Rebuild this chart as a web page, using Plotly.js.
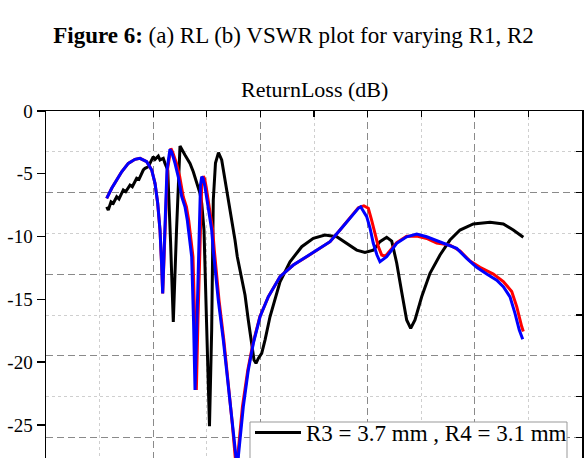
<!DOCTYPE html>
<html>
<head>
<meta charset="utf-8">
<script src="https://cdn.plot.ly/plotly-3.0.1.min.js"></script>
<style>
html,body{margin:0;padding:0;background:#fff;overflow:hidden;}
#wrap{width:587px;height:458px;overflow:hidden;}
</style>
</head>
<body>
<div id="wrap"><div id="chart"></div></div>
<script>
// Series names
const seriesNames = ["R3 = 3.7 mm , R4 = 3.1 mm", "R3 = 3.8 mm , R4 = 3.2 mm", "R3 = 3.9 mm , R4 = 3.3 mm"];
const yTickVals = [0, -5, -10, -15, -20, -25];
const yTickText = ["0", "-5", "-10", "-15", "-20", "-25"];

// Black series (R3 = 3.7 mm, R4 = 3.1 mm)
const xBlack = [1.132,1.162,1.213,1.256,1.319,1.362,1.442,1.487,1.567,1.610,1.692,1.735,1.815,1.847,1.909,1.959,2.002,2.034,2.095,2.127,2.188,2.220,2.271,2.323,2.375,2.435,2.500,2.593,2.687,2.748,2.812,2.873,2.905,2.923,2.948,2.994,3.050,3.091,3.121,3.162,3.218,3.278,3.340,3.401,3.465,3.526,3.569,3.619,3.713,3.774,3.838,3.881,3.918,3.961,4.024,4.086,4.179,4.272,4.366,4.552,4.771,4.987,5.205,5.424,5.610,5.797,5.951,6.106,6.231,6.356,6.450,6.543,6.636,6.729,6.804,6.884,7.009,7.164,7.351,7.537,7.724,7.972,8.284,8.532,8.718,8.905];
const yBlack = [-7.63,-7.89,-7.23,-7.35,-6.83,-7.01,-6.29,-6.43,-5.90,-6.03,-5.36,-5.44,-4.70,-4.57,-4.44,-4.04,-3.64,-3.85,-3.59,-3.90,-3.77,-4.17,-4.70,-10.3,-16.8,-9.5,-2.79,-3.51,-4.17,-4.84,-5.63,-6.56,-7.35,-8.13,-9.48,-16.65,-25.1,-17.45,-7.09,-4.14,-3.31,-3.90,-5.50,-6.83,-8.42,-10.28,-11.61,-12.67,-14.66,-16.65,-18.65,-19.84,-20.10,-19.71,-19.31,-18.25,-16.39,-15.06,-13.60,-12.01,-10.81,-10.14,-9.88,-10.02,-10.54,-11.08,-11.27,-11.08,-10.41,-10.06,-10.36,-12.11,-14.42,-16.65,-17.31,-16.65,-14.80,-12.93,-11.47,-10.28,-9.48,-9.00,-8.87,-9.00,-9.48,-10.06];

// Red series (R3 = 3.8 mm, R4 = 3.2 mm)
const xRed = [1.132,1.226,1.319,1.412,1.535,1.660,1.754,1.879,1.972,2.034,2.084,2.127,2.159,2.177,2.215,2.265,2.330,2.362,2.435,2.495,2.560,2.620,2.662,2.712,2.742,2.775,2.805,2.835,2.875,2.905,2.935,2.960,2.990,3.050,3.110,3.140,3.170,3.228,3.318,3.405,3.475,3.530,3.560,3.575,3.665,3.765,3.862,3.990,4.147,4.366,4.614,4.864,5.112,5.299,5.485,5.672,5.827,5.930,6.013,6.075,6.138,6.200,6.263,6.310,6.356,6.543,6.729,6.916,7.103,7.289,7.537,7.724,7.910,8.097,8.346,8.532,8.689,8.782,8.875,8.905];
const yRed = [-6.96,-6.16,-5.50,-4.84,-4.17,-3.85,-3.77,-4.04,-4.70,-5.76,-7.35,-9.48,-12.41,-14.54,-10.28,-4.70,-2.98,-3.27,-4.17,-5.24,-6.83,-7.63,-8.69,-10.28,-11.61,-16.65,-22.23,-16.65,-9.48,-5.90,-5.20,-5.40,-6.10,-7.63,-9.48,-11.08,-12.67,-15.06,-18.25,-21.70,-24.88,-27.55,-28.70,-27.60,-23.56,-20.64,-18.51,-16.39,-14.80,-13.20,-12.27,-11.61,-10.94,-10.41,-9.48,-8.55,-7.70,-7.55,-7.75,-8.70,-9.75,-10.80,-11.47,-11.55,-11.45,-10.48,-9.97,-9.97,-10.15,-10.52,-10.68,-11.15,-11.95,-12.45,-12.99,-13.58,-14.38,-15.58,-17.17,-17.57];

// Blue series (R3 = 3.9 mm, R4 = 3.3 mm)
const xBlue = [1.132,1.226,1.319,1.412,1.535,1.660,1.754,1.879,1.972,2.034,2.084,2.127,2.159,2.177,2.211,2.257,2.313,2.345,2.407,2.468,2.532,2.593,2.636,2.687,2.718,2.752,2.780,2.817,2.854,2.882,2.905,2.929,2.966,3.028,3.091,3.121,3.153,3.214,3.308,3.401,3.483,3.545,3.573,3.591,3.681,3.774,3.868,3.993,4.147,4.366,4.614,4.864,5.112,5.299,5.485,5.672,5.827,5.871,5.983,6.045,6.106,6.175,6.231,6.356,6.543,6.729,6.916,7.103,7.289,7.537,7.662,7.849,8.035,8.222,8.409,8.532,8.657,8.750,8.830,8.894];
const yBlue = [-6.96,-6.16,-5.50,-4.84,-4.17,-3.85,-3.77,-4.04,-4.70,-5.76,-7.35,-9.48,-12.41,-14.54,-10.28,-4.70,-3.05,-3.27,-4.17,-5.24,-6.83,-7.63,-8.69,-10.28,-11.61,-16.65,-22.23,-16.65,-9.48,-5.90,-5.24,-5.34,-6.03,-7.63,-9.48,-11.08,-12.67,-15.06,-18.25,-21.70,-24.88,-27.55,-28.61,-27.41,-23.56,-20.64,-18.51,-16.39,-14.80,-13.20,-12.27,-11.61,-10.94,-10.41,-9.48,-8.55,-7.75,-7.63,-8.42,-9.32,-10.54,-11.47,-12.01,-11.61,-10.54,-10.02,-9.80,-10.02,-10.33,-10.68,-10.94,-11.74,-12.45,-12.99,-13.47,-14.00,-14.80,-16.12,-17.45,-18.19];

const serif = "'Liberation Serif','Times New Roman',serif";
const lw = 3;

const data = [
  {x: xBlack, y: yBlack, mode: 'lines', name: seriesNames[0], line: {color: '#000000', width: lw}},
  {x: xRed, y: yRed, mode: 'lines', name: seriesNames[1], line: {color: '#ff0000', width: lw}},
  {x: xBlue, y: yBlue, mode: 'lines', name: seriesNames[2], line: {color: '#0000ff', width: lw}},
  {x: [null], y: [null], xaxis: 'x2', yaxis: 'y2', showlegend: false, hoverinfo: 'skip', mode: 'lines'}
];

const yMin = -32.5;
const plotH = 408;
const layout = {
  width: 587,
  height: 579,
  margin: {l: 46, r: 5, t: 111, b: 60},
  paper_bgcolor: '#ffffff',
  plot_bgcolor: '#ffffff',
  font: {family: serif, color: '#000', size: 19},
  showlegend: true,
  title: {
    text: '<b>Figure 6:</b> (a) RL (b) VSWR plot for varying R1, R2',
    font: {family: serif, size: 23, color: '#000'},
    x: 0.5, xref: 'container', xanchor: 'center',
    y: 1 - 35/579, yref: 'container', yanchor: 'middle'
  },
  annotations: [{
    text: 'ReturnLoss (dB)', xref: 'paper', yref: 'paper', x: 0.5, y: 1, yshift: 22,
    xanchor: 'center', yanchor: 'middle', showarrow: false,
    font: {family: serif, size: 22, color: '#000'}
  }],
  shapes: [{
    type: 'rect', xref: 'paper', yref: 'paper', layer: 'above',
    x0: (250 - 46) / 536, x1: (567 - 46) / 536,
    y0: 1 - (422 - 111) / plotH, y1: 0.02,
    fillcolor: '#ffffff', line: {color: '#999999', width: 1}
  }],
  xaxis: {
    range: [0, 10], showline: true, linecolor: '#000', linewidth: 1.5,
    showticklabels: false, ticks: '', zeroline: false,
    showgrid: true, tick0: 0, dtick: 2, gridcolor: '#8a8a8a', gridwidth: 1, griddash: '7px,4px',
    minor: {dtick: 1, showgrid: true, gridcolor: '#cfcfcf', gridwidth: 1, griddash: '3px,3px'}
  },
  xaxis2: {
    overlaying: 'x', side: 'top', range: [0, 10], showline: true, linecolor: '#000', linewidth: 1.5,
    ticks: 'inside', tick0: 0, dtick: 1, ticklen: 6, tickwidth: 1.3, tickcolor: '#000',
    showticklabels: false, showgrid: false, zeroline: false
  },
  yaxis: {
    range: [yMin, 0], showline: true, linecolor: '#000', linewidth: 1.5,
    tickvals: yTickVals, ticktext: yTickText, ticks: 'outside', ticklen: 8, tickwidth: 1.3, tickcolor: '#000',
    tickfont: {family: serif, size: 19, color: '#000'},
    showgrid: false, zeroline: false
  },
  yaxis2: {
    overlaying: 'y', side: 'right', range: [yMin, 0], showline: true, linecolor: '#000', linewidth: 1.5,
    tick0: 0, dtick: 6.5, ticks: 'inside', ticklen: 6, tickwidth: 1.3, tickcolor: '#000',
    showticklabels: false, zeroline: false,
    showgrid: true, gridcolor: '#8a8a8a', gridwidth: 1, griddash: '7px,4px',
    minor: {dtick: 3.25, ticks: 'inside', ticklen: 6, tickwidth: 1.3, tickcolor: '#000',
            showgrid: true, gridcolor: '#cfcfcf', gridwidth: 1, griddash: '3px,3px'}
  },
  legend: {
    x: (250 - 46) / 536, y: 1 - (411 - 111) / plotH, xanchor: 'left', yanchor: 'top',
    bgcolor: 'rgba(0,0,0,0)', borderwidth: 0, itemwidth: 46,
    font: {family: serif, size: 23, color: '#000'}, traceorder: 'normal'
  }
};

Plotly.newPlot('chart', data, layout, {displayModeBar: false, staticPlot: true});
</script>
</body>
</html>
